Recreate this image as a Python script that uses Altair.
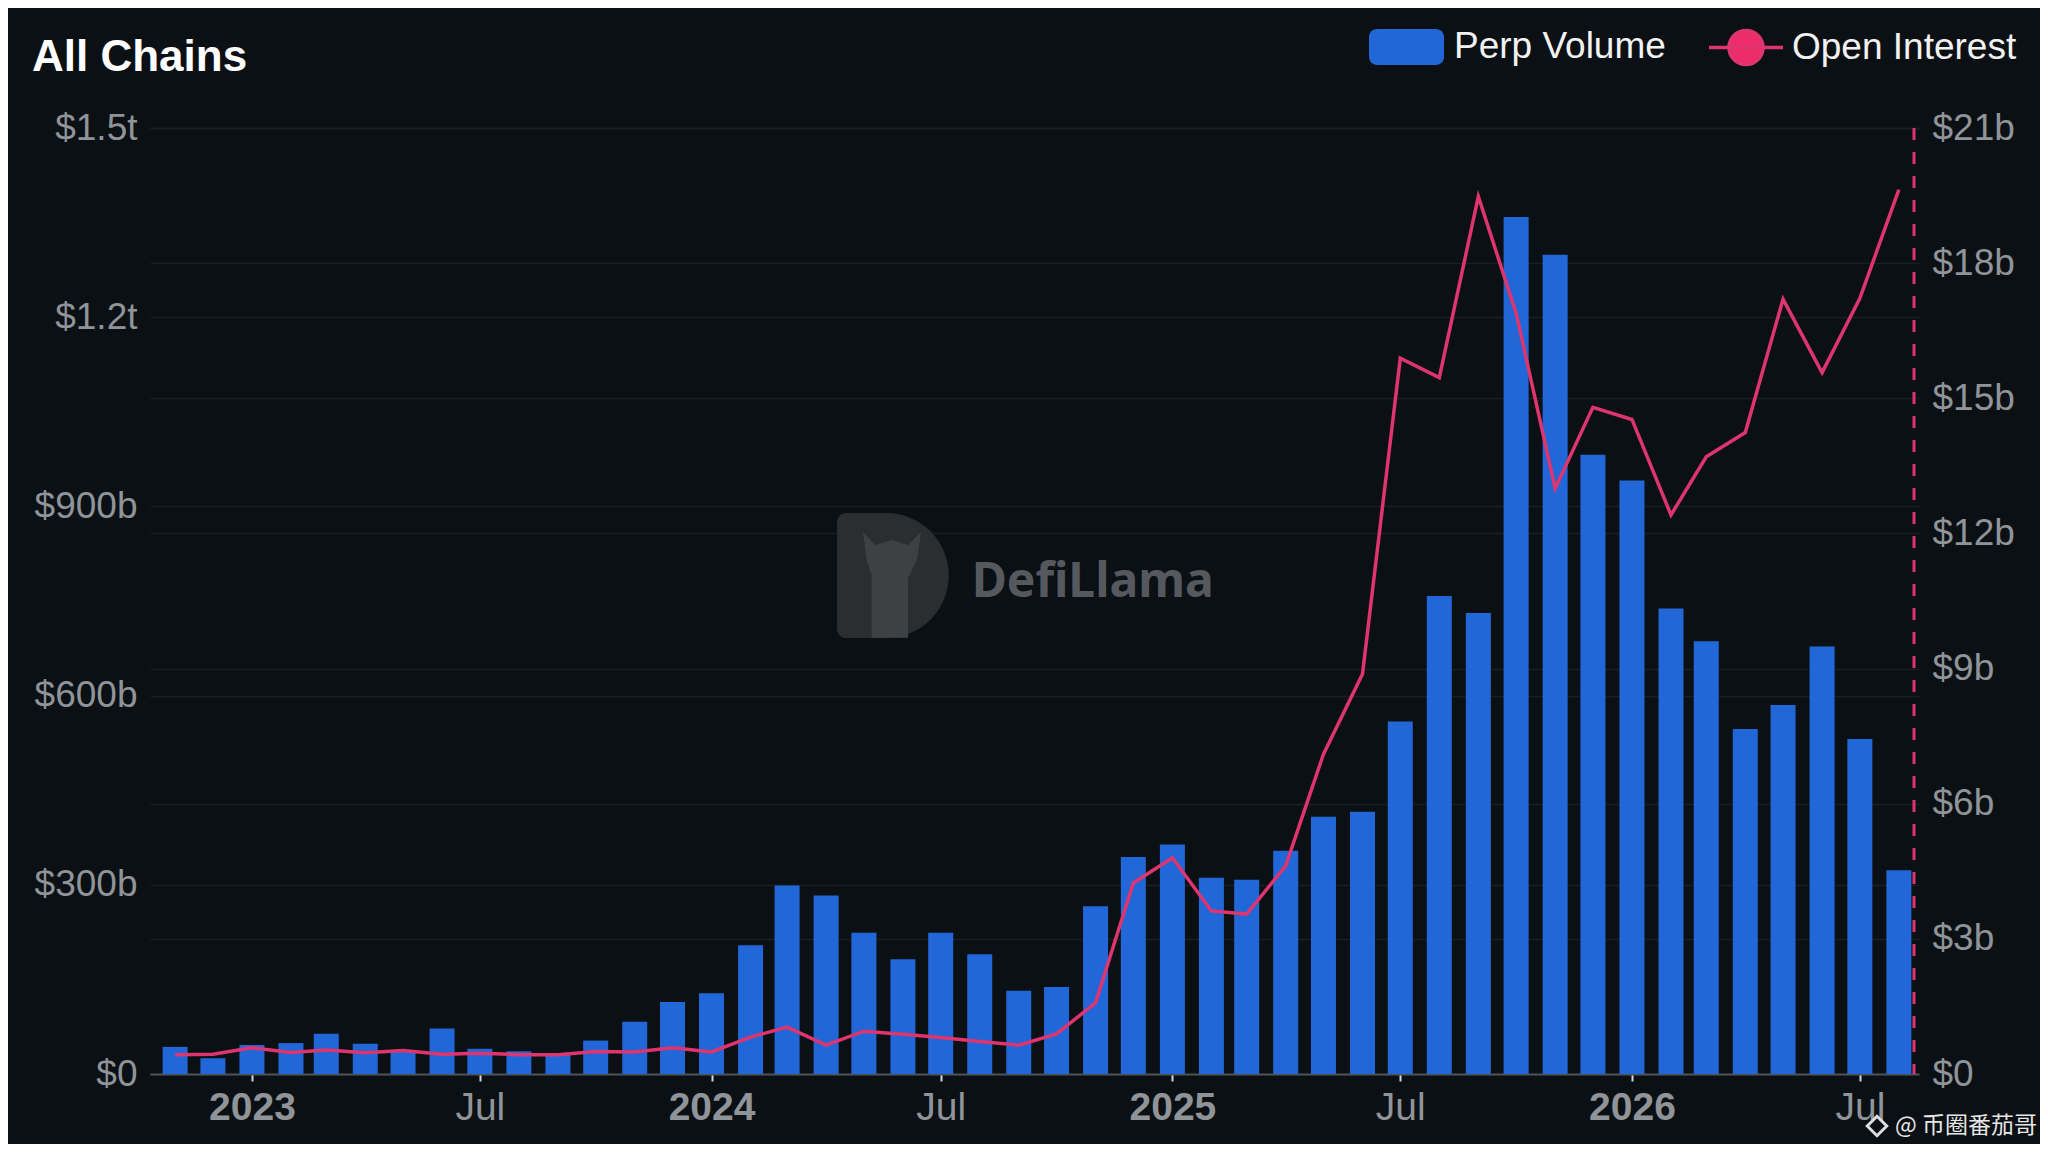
import altair as alt
import pandas as pd

# ---------------- data ----------------
months = pd.date_range("2022-11-01", "2026-08-01", freq="MS").strftime("%Y-%m-%d").tolist()

# Perp volume, billions USD (left axis)
perp_volume_b = [
    43, 25,
    46, 49, 64, 48, 37, 72, 40, 36, 33, 53, 83, 114,
    128, 204, 299, 283, 224, 182, 224, 190, 132, 138, 266, 344,
    364, 311, 308, 354, 408, 416, 559, 758, 731, 1359, 1299, 982,
    941, 738, 686, 547, 585, 678, 531, 323,
]

# Open interest, billions USD (right axis)
open_interest_b = [
    0.43, 0.44,
    0.58, 0.48, 0.53, 0.47, 0.52, 0.44, 0.46, 0.43, 0.43, 0.50, 0.49, 0.58,
    0.49, 0.82, 1.04, 0.64, 0.95, 0.88, 0.81, 0.72, 0.64, 0.89, 1.58, 4.24,
    4.80, 3.62, 3.55, 4.62, 7.10, 8.88, 15.89, 15.46, 19.48, 16.89, 13.0, 14.8,
    14.53, 12.41, 13.7, 14.24, 17.2, 15.57, 17.22, 19.63,
]

left_ticks = [0, 300, 600, 900, 1200, 1500]
right_ticks = [0, 3, 6, 9, 12, 15, 18, 21]
x_tick_dates = [(2023, 1), (2023, 7), (2024, 1), (2024, 7), (2025, 1), (2025, 7), (2026, 1), (2026, 7)]
today = ["2026-08-13"]

df = pd.DataFrame({"month": months, "volume": perp_volume_b, "oi": open_interest_b})
rule_df = pd.DataFrame({"month": today})

# ---------------- styling ----------------
FONT = "Liberation Sans"
BG = "#0b1014"
BLUE = "#2267D8"
PINK = "#DE356E"
PINK_DOT = "#EE2C6C"
LABEL = "#909498"
GRID = "#181e22"

W, H = 1769, 946

x_enc = alt.X(
    "month:T",
    title=None,
    scale=alt.Scale(
        type="utc",
        domain=[
            alt.DateTime(year=2022, month=10, date=16, utc=True),
            alt.DateTime(year=2026, month=8, date=13, utc=True),
        ],
    ),
    axis=alt.Axis(
        values=[alt.DateTime(year=y, month=m, date=1, utc=True) for y, m in x_tick_dates],
        labelExpr="utcmonth(datum.value) == 0 ? utcFormat(datum.value, '%Y') : 'Jul'",
        labelFontWeight={"condition": {"test": "utcmonth(datum.value) == 0", "value": "bold"}, "value": "normal"},
        labelFont=FONT,
        labelFontSize=39,
        labelColor=LABEL,
        labelPadding=7,
        labelFlush=False,
        labelOverlap=False,
        tickColor="#d8d8d8",
        tickSize=7,
        tickWidth=2,
        domainColor="#4d5256",
        domainWidth=2,
        grid=False,
    ),
)

rr_path = ("M-0.787,-0.48 L0.787,-0.48 A0.213,0.213 0 0 1 1,-0.267 L1,0.267 "
           "A0.213,0.213 0 0 1 0.787,0.48 L-0.787,0.48 A0.213,0.213 0 0 1 -1,0.267 "
           "L-1,-0.267 A0.213,0.213 0 0 1 -0.787,-0.48 Z")
line_dot_path = ("M-1,0 L1,0 M0.46,0 A0.46,0.46 0 1 1 -0.46,0 A0.46,0.46 0 1 1 0.46,0 Z")

bars = (
    alt.Chart(df)
    .transform_calculate(series="'Perp Volume'")
    .mark_bar(width=25)
    .encode(
        x=x_enc,
        y=alt.Y(
            "volume:Q",
            title=None,
            scale=alt.Scale(domain=[0, 1500], nice=False),
            axis=alt.Axis(
                orient="left",
                values=left_ticks,
                labelExpr="datum.value == 0 ? '$0' : datum.value >= 1000 ? '$' + format(datum.value / 1000, '.1f') + 't' : '$' + format(datum.value, 'd') + 'b'",
                labelFont=FONT,
                labelFontSize=37,
                labelColor=LABEL,
                labelPadding=13,
                ticks=False,
                domain=False,
                grid=True,
                gridColor=GRID,
                gridWidth=1.5,
            ),
        ),
        color=alt.Color(
            "series:N",
            scale=alt.Scale(domain=["Perp Volume"], range=[BLUE]),
            legend=alt.Legend(
                title=None,
                orient="none",
                legendX=1219,
                legendY=-118.5,
                symbolType=rr_path,
                symbolSize=5625,
                symbolStrokeWidth=0,
                labelFont=FONT,
                labelFontSize=37,
                labelColor="#f2f2f2",
                labelOffset=10,
                labelLimit=500,
                padding=0,
            ),
        ),
    )
)

line = (
    alt.Chart(df)
    .transform_calculate(series2="'Open Interest'")
    .mark_line(strokeWidth=3.5)
    .encode(
        x=x_enc,
        y=alt.Y(
            "oi:Q",
            title=None,
            scale=alt.Scale(domain=[0, 21], nice=False),
            axis=alt.Axis(
                orient="right",
                values=right_ticks,
                labelExpr="datum.value == 0 ? '$0' : '$' + format(datum.value, 'd') + 'b'",
                labelFont=FONT,
                labelFontSize=37,
                labelColor=LABEL,
                labelPadding=13,
                ticks=False,
                domain=False,
                grid=True,
                gridColor=GRID,
                gridWidth=1.5,
            ),
        ),
        stroke=alt.Stroke(
            "series2:N",
            scale=alt.Scale(domain=["Open Interest"], range=[PINK]),
            legend=alt.Legend(
                title=None,
                orient="none",
                legendX=1557,
                legendY=-119.5,
                symbolType=line_dot_path,
                symbolSize=5476,
                symbolStrokeWidth=3.5,
                symbolFillColor=PINK_DOT,
                symbolStrokeColor=PINK_DOT,
                labelFont=FONT,
                labelFontSize=37,
                labelColor="#f2f2f2",
                labelOffset=7,
                labelLimit=500,
                padding=0,
            ),
        ),
    )
)

rule = (
    alt.Chart(rule_df)
    .mark_rule(color=PINK, strokeWidth=3, strokeDash=[12, 12])
    .encode(x=x_enc)
)

title_txt = (
    alt.Chart(pd.DataFrame({"t": ["All Chains"]}))
    .mark_text(font=FONT, fontSize=44, fontWeight="bold", color="#ffffff", align="left", baseline="alphabetic")
    .encode(text="t:N", x=alt.value(-118), y=alt.value(-57))
)

# DefiLlama watermark (logo + word mark)
d_logo = ("M-0.888,-0.85 A0.15,0.15 0 0 1 -0.738,-1 L-0.1,-1 A1,1 0 0 1 -0.1,1 "
          "L-0.738,1 A0.15,0.15 0 0 1 -0.888,0.85 Z")
llama_shape = ("M-0.333,0.995 L-0.333,-0.008 L-0.413,-0.248 L-0.472,-0.696 L-0.28,-0.49 "
               "L-0.008,-0.568 L0.248,-0.49 L0.456,-0.696 L0.392,-0.248 L0.248,0.04 L0.248,0.995 Z")
logo_df = pd.DataFrame({"k": [1]})
llama_logo = (
    alt.Chart(logo_df)
    .mark_point(shape=d_logo, filled=True, size=15625, color="#2a2e31", opacity=1)
    .encode(x=alt.value(742.5), y=alt.value(447.5))
)
llama_fig = (
    alt.Chart(logo_df)
    .mark_point(shape=llama_shape, filled=True, size=15625, color="#3d4144", opacity=1)
    .encode(x=alt.value(742.5), y=alt.value(447.5))
)
llama_txt = (
    alt.Chart(pd.DataFrame({"t": ["DefiLlama"]}))
    .mark_text(font="Noto Sans", fontSize=48, fontWeight="bold", color="#55595d", align="left", baseline="alphabetic")
    .encode(text="t:N", x=alt.value(821.7), y=alt.value(469))
)

# bottom-right source watermark
wm_logo = (
    alt.Chart(logo_df)
    .mark_point(shape="diamond", filled=False, size=380, strokeWidth=3, color="#dedede", opacity=1)
    .encode(x=alt.value(1727), y=alt.value(998))
)
wm_txt = (
    alt.Chart(pd.DataFrame({"t": ["@ 币圈番茄哥"]}))
    .mark_text(font="Noto Sans CJK SC", fontSize=23, color="#e6e6e6", align="left", baseline="middle")
    .encode(text="t:N", x=alt.value(1745), y=alt.value(998))
)

chart = (
    alt.layer(llama_logo, llama_fig, llama_txt, bars, line, rule, title_txt, wm_logo, wm_txt)
    .resolve_scale(y="independent")
    .properties(
        width=W,
        height=H,
        padding={"left": 142, "top": 120, "right": 121, "bottom": 70},
        autosize=alt.AutoSizeParams(type="none"),
        background=BG,
    )
    .configure_view(strokeWidth=0)
)

chart.save("out.html", embed_options={"renderer": "svg", "actions": False})
